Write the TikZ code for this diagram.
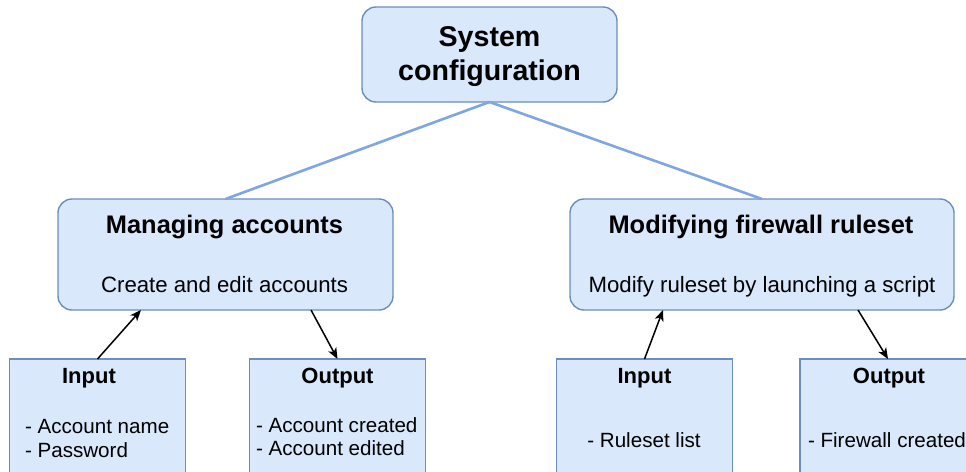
\documentclass[tikz,border=0pt]{standalone}
\usepackage{fontspec}
\setmainfont{Liberation Sans}
\usetikzlibrary{arrows.meta,calc}
\definecolor{boxfill}{HTML}{DAE8FC}
\definecolor{boxline}{HTML}{6C8EBF}
\definecolor{linkblue}{HTML}{7EA6E0}
\tikzset{
  box/.style={draw=boxline, fill=boxfill, line width=1.4pt, inner sep=0pt, outer sep=0pt},
  rbox/.style={box, rounded corners=14pt},
  link/.style={draw=linkblue, line width=2.6pt},
  arr/.style={draw=black, line width=1.5pt, -{Stealth[length=11pt,width=9pt,inset=3pt]}},
  txt/.style={inner sep=0pt, outer sep=0pt},
  fTitle/.style={txt, font=\fontsize{28.6}{34}\selectfont\bfseries},
  fHead/.style={txt, font=\fontsize{25.4}{30}\selectfont\bfseries},
  fSub/.style={txt, font=\fontsize{22.2}{26}\selectfont},
  fIO/.style={txt, font=\fontsize{22}{26}\selectfont\bfseries},
  fItem/.style={txt, font=\fontsize{20.6}{24}\selectfont},
}
\begin{document}
\begin{tikzpicture}[x=1pt,y=-1pt]
\useasboundingbox (0,0) rectangle (966,471);
\clip (0,0) rectangle (966,471);
\fill[white] (0,0) rectangle (966,471);

% boxes
\node[rbox, minimum width=255pt, minimum height=95pt] (sys) at (489.5,54.5) {};
\node[rbox, minimum width=335pt, minimum height=111pt] (mgr) at (225.5,254.5) {};
\node[rbox, minimum width=384pt, minimum height=111pt] (fw) at (762,254.5) {};
\node[box, minimum width=176pt, minimum height=130pt] (inL) at (97.5,424) {};
\node[box, minimum width=176pt, minimum height=130pt] (outL) at (337.5,424) {};
\node[box, minimum width=176pt, minimum height=130pt] (inR) at (644.5,424) {};
\node[box, minimum width=176pt, minimum height=130pt] (outR) at (888,424) {};

% connectors
\draw[link] (sys.south) -- (mgr.north);
\draw[link] (sys.south) -- (fw.north);
\draw[arr] (inL.north) -- ([xshift=83pt]mgr.south west);
\draw[arr] ([xshift=253pt]mgr.south west) -- (outL.north);
\draw[arr] (inR.north) -- ([xshift=93pt]fw.south west);
\draw[arr] ([xshift=288pt]fw.south west) -- (outR.north);

% texts
\node[fTitle, anchor=base] (t1) at (489.5,46) {System};
\node[fTitle, anchor=base] (t2) at (489.5,80) {configuration};
\node[fHead, anchor=base] (h1) at (224.5,233) {Managing accounts};
\node[fSub, anchor=base] (s1) at (224.5,292) {Create and edit accounts};
\node[fHead, anchor=base] (h2) at (761,233) {Modifying firewall ruleset};
\node[fSub, anchor=base] (s2) at (762,292) {Modify ruleset by launching a script};

\node[fIO, anchor=base] (i1) at (89,383) {Input};
\node[fItem, anchor=base west] (i1a) at (25,433) {- Account name};
\node[fItem, anchor=base west] (i1b) at (25,457) {- Password};

\node[fIO, anchor=base] (o1) at (337.5,383) {Output};
\node[fItem, anchor=base west] (o1a) at (256,432) {- Account created};
\node[fItem, anchor=base west] (o1b) at (256,455) {- Account edited};

\node[fIO, anchor=base] (i2) at (644.5,383) {Input};
\node[fItem, anchor=base] (i2a) at (644,447) {- Ruleset list};

\node[fIO, anchor=base] (o2) at (889,383) {Output};
\node[fItem, anchor=base west] (o2a) at (808,447) {- Firewall created};
\end{tikzpicture}
\end{document}
